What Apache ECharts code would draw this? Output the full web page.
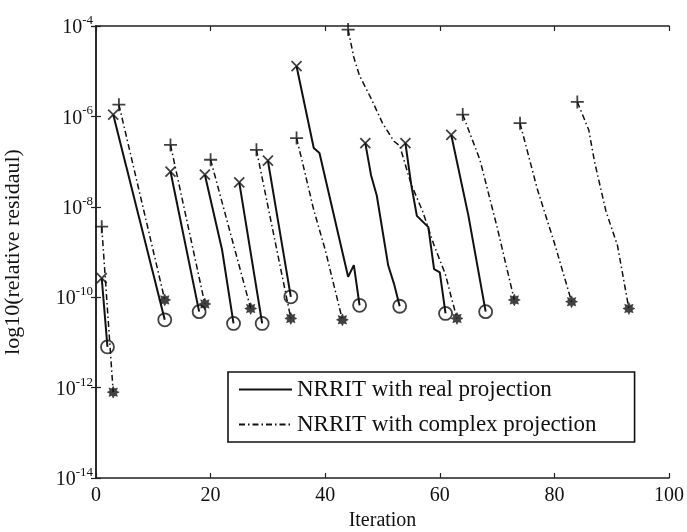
<!DOCTYPE html>
<html>
<head>
<meta charset="utf-8">
<script src="https://cdn.jsdelivr.net/npm/echarts@6/dist/echarts.min.js"></script>
<style>
html,body{margin:0;padding:0;background:#fff;}
#chart{width:687px;height:532px;}
</style>
</head>
<body>
<div id="chart"></div>
<script>
// ---- Data ----
const legendNames = ['NRRIT with real projection', 'NRRIT with complex projection'];
const xTicks = [0, 20, 40, 60, 80, 100];
const yTicks = [1e-14, 1e-12, 1e-10, 1e-8, 1e-6, 1e-4];

// NRRIT with real projection: one restart per segment (iteration, residual)
const realIters = [
  [1, 2],
  [3, 12],
  [13, 18],
  [19, 22, 24],
  [25, 29],
  [30, 34],
  [35, 38, 39, 44, 45, 46],
  [47, 48, 49, 51, 52, 53],
  [54, 55, 56, 58, 59, 60, 61],
  [62, 65, 68]
];
const realRes = [
  [2.63e-10, 7.94e-12],
  [1.10e-6, 3.16e-11],
  [6.03e-8, 4.79e-11],
  [5.13e-8, 1.12e-9, 2.63e-11],
  [3.47e-8, 2.63e-11],
  [1.05e-7, 1.02e-10],
  [1.29e-5, 2.0e-7, 1.55e-7, 2.82e-10, 5.13e-10, 6.61e-11],
  [2.57e-7, 5.01e-8, 1.78e-8, 5.01e-10, 2.0e-10, 6.31e-11],
  [2.57e-7, 3.16e-8, 6.31e-9, 3.55e-9, 4.17e-10, 3.55e-10, 4.37e-11],
  [3.89e-7, 6.31e-9, 4.79e-11]
];

// NRRIT with complex projection
const complexIters = [
  [1, 3],
  [4, 12],
  [13, 19],
  [20, 27],
  [28, 34],
  [35, 36, 38, 40, 43],
  [44, 45, 46, 48, 50, 52, 53, 55, 57, 59, 61, 62, 63],
  [64, 67, 70, 73],
  [74, 77, 80, 83],
  [84, 86, 87, 89, 91, 93]
];
const complexRes = [
  [3.63e-9, 7.94e-13],
  [1.82e-6, 8.71e-11],
  [2.34e-7, 7.08e-11],
  [1.10e-7, 5.62e-11],
  [1.82e-7, 3.39e-11],
  [3.31e-7, 1.0e-7, 8.51e-9, 1.12e-9, 3.16e-11],
  [8.32e-5, 2.0e-5, 7.94e-6, 2.51e-6, 7.08e-7, 2.82e-7, 2.24e-7, 3.16e-8, 7.94e-9, 1.41e-9, 3.16e-10, 1.0e-10, 3.39e-11],
  [1.10e-6, 1.10e-7, 3.55e-9, 8.71e-11],
  [7.08e-7, 2.51e-8, 1.58e-9, 7.94e-11],
  [2.09e-6, 5.01e-7, 1.0e-7, 7.94e-9, 1.41e-9, 5.62e-11]
];

// ---- Styling ----
const FONT = '"Liberation Serif", "Times New Roman", serif';
const INK = '#111';
const SYM_X = 'path://M0,0L10,10M10,0L0,10';
const SYM_PLUS = 'path://M5,0L5,10M0,5L10,5';
const SYM_STAR = 'path://M5,0L6.15,2.23L8.54,1.46L7.77,3.85L10,5L7.77,6.15L8.54,8.54L6.15,7.77L5,10L3.85,7.77L1.46,8.54L2.23,6.15L0,5L2.23,3.85L1.46,1.46L3.85,2.23Z';

function segData(iters, res) {
  return iters.map((x, i) => [x, res[i]]);
}

const series = [];
realIters.forEach((it, k) => {
  series.push({
    name: legendNames[0], type: 'line', data: segData(it, realRes[k]),
    symbol: 'none', itemStyle: {color: INK},
    lineStyle: {color: INK, width: 2, type: 'solid'},
    z: 3, silent: true, animation: false
  });
});
complexIters.forEach((it, k) => {
  series.push({
    name: legendNames[1], type: 'line', data: segData(it, complexRes[k]),
    symbol: 'none', itemStyle: {color: INK},
    lineStyle: {color: INK, width: 1.5, type: [6, 3, 1.5, 3]},
    z: 2, silent: true, animation: false
  });
});

function markerSeries(data, symbol, size, filled) {
  return {
    type: 'scatter', data: data, symbol: symbol, symbolSize: size,
    itemStyle: filled ? {color: INK, borderColor: INK, borderWidth: 0.5}
                      : {color: 'rgba(0,0,0,0)', borderColor: INK, borderWidth: 1.8},
    z: 5, silent: true, animation: false
  };
}
series.push(markerSeries(realIters.map((it, k) => [it[0], realRes[k][0]]), SYM_X, 10, false));
series.push(markerSeries(realIters.map((it, k) => [it[it.length - 1], realRes[k][it.length - 1]]), 'circle', 13, false));
series.push(markerSeries(complexIters.map((it, k) => [it[0], complexRes[k][0]]), SYM_PLUS, 13, false));
series.push(markerSeries(complexIters.map((it, k) => [it[it.length - 1], complexRes[k][it.length - 1]]), SYM_STAR, 12, true));

const axisLine = {show: true, lineStyle: {color: '#222', width: 1.6}};
const axisTick = {show: true, inside: true, length: 5, lineStyle: {color: '#222', width: 1.2}};

const yLabel = {
  fontFamily: FONT, color: INK, margin: 3,
  formatter: function (v) {
    const e = Math.round(Math.log10(v));
    return '{b|10}{s|' + e + '}';
  },
  rich: {
    b: {fontFamily: FONT, fontSize: 20, color: INK, lineHeight: 24, verticalAlign: 'bottom'},
    s: {fontFamily: FONT, fontSize: 13, color: INK, lineHeight: 24, verticalAlign: 'top'}
  }
};

const option = {
  backgroundColor: '#fff',
  animation: false,
  grid: {left: 96, right: 18, top: 26, bottom: 54, containLabel: false, outerBoundsMode: 'none'},
  legend: {
    data: legendNames, orient: 'vertical', left: 228, top: 372,
    itemWidth: 53, itemHeight: 14, itemGap: 12,
    padding: [6, 38, 6, 10],
    itemStyle: {opacity: 0},
    borderColor: '#111', borderWidth: 1.6, backgroundColor: '#fff',
    textStyle: {fontFamily: FONT, fontSize: 23, color: INK},
    selectedMode: false
  },
  xAxis: [
    {type: 'value', min: xTicks[0], max: xTicks[xTicks.length - 1], interval: 20, position: 'bottom',
     axisLine: axisLine, axisTick: axisTick, splitLine: {show: false},
     axisLabel: {fontFamily: FONT, fontSize: 20, color: INK, margin: 8},
     name: 'Iteration', nameLocation: 'middle', nameGap: 33,
     nameTextStyle: {fontFamily: FONT, fontSize: 20, color: INK}},
    {type: 'value', min: xTicks[0], max: xTicks[xTicks.length - 1], interval: 20, position: 'top',
     axisLine: axisLine, axisTick: axisTick, splitLine: {show: false}, axisLabel: {show: false}}
  ],
  yAxis: [
    {type: 'log', logBase: 10, min: yTicks[0], max: yTicks[yTicks.length - 1], interval: 2, position: 'left',
     axisLine: axisLine, axisTick: axisTick, splitLine: {show: false}, minorTick: {show: false},
     axisLabel: yLabel,
     name: 'log10(relative residaul)', nameLocation: 'middle', nameGap: 72, nameRotate: 90,
     nameTextStyle: {fontFamily: FONT, fontSize: 22, color: INK}},
    {type: 'log', logBase: 10, min: yTicks[0], max: yTicks[yTicks.length - 1], interval: 2, position: 'right',
     axisLine: axisLine, axisTick: axisTick, splitLine: {show: false}, axisLabel: {show: false}}
  ],
  series: series
};

const chart = echarts.init(document.getElementById('chart'), null, {renderer: 'canvas'});
chart.setOption(option);
</script>
</body>
</html>
